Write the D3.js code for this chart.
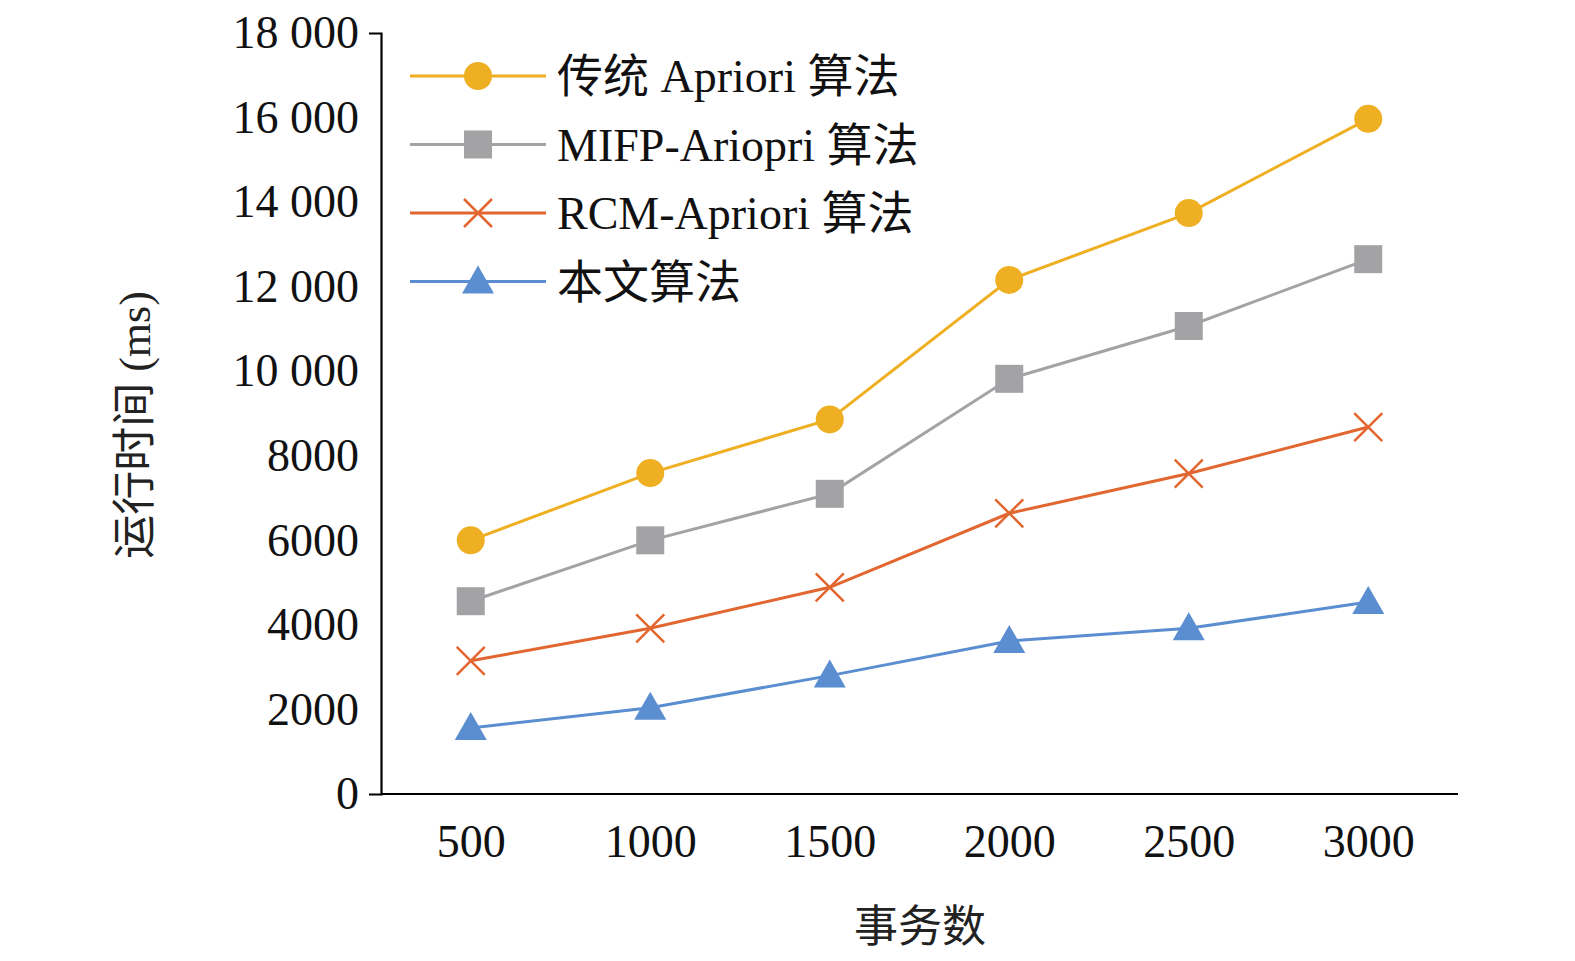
<!DOCTYPE html>
<html><head><meta charset="utf-8">
<script src="https://cdn.jsdelivr.net/npm/d3@7"></script>
<style>body{margin:0;background:#fff}</style>
</head><body>
<svg id="chart" width="1575" height="961"></svg>
<script>
// data
var categories = [500, 1000, 1500, 2000, 2500, 3000];
var traditional = [6000, 7590, 8860, 12160, 13740, 15970];
var mifp = [4560, 6000, 7100, 9820, 11070, 12650];
var rcm = [3150, 3920, 4890, 6640, 7580, 8680];
var ours = [1560, 2040, 2800, 3620, 3920, 4540];
var yTicks = [0, 2000, 4000, 6000, 8000, 10000, 12000, 14000, 16000, 18000];
var seriesNames = ["传统 Apriori 算法", "MIFP-Ariopri 算法", "RCM-Apriori 算法", "本文算法"];
var seriesColors = ["#EFAF22", "#A3A3A6", "#E2662F", "#5A8ED0"];
var seriesShapes = ["circle", "square", "cross", "triangle"];
var allSeries = [traditional, mifp, rcm, ours];

var svg = d3.select("#chart");
var font = "'Liberation Serif', 'Times New Roman', 'Noto Sans CJK SC', serif";

var x = d3.scalePoint().domain(categories).range([381, 1458]).padding(0.5);
var y = d3.scaleLinear().domain([0, 18000]).range([794, 33]);

function fmt(v) { return v >= 10000 ? d3.format(",")(v).replace(",", " ") : String(v); }

//Axes
var yAxis = svg.append("g").attr("transform", "translate(381,0)")
    .call(d3.axisLeft(y).tickValues(yTicks).tickFormat(fmt).tickSize(12).tickPadding(10));
var xAxis = svg.append("g").attr("transform", "translate(0,794)")
    .call(d3.axisBottom(x).tickSize(0).tickPadding(30));
xAxis.selectAll(".tick").append("line").attr("stroke", "#000").attr("stroke-width", 2)
    .attr("y2", 0);
[yAxis, xAxis].forEach(function (a) {
    a.select(".domain").attr("stroke", "#000").attr("stroke-width", 2.2);
    a.selectAll("line").attr("stroke", "#000").attr("stroke-width", 2);
    a.selectAll("text").attr("font-family", font).attr("font-size", 46).attr("fill", "#111");
});
yAxis.selectAll(".tick line").attr("x2", 0);
xAxis.select(".domain").attr("d", "M381,0H1458");

svg.append("text").attr("transform", "translate(150,425) rotate(-90)")
    .attr("text-anchor", "middle").attr("font-family", font).attr("font-size", 44)
    .attr("fill", "#222").text("运行时间 (ms)");
svg.append("text").attr("x", 920).attr("y", 942).attr("text-anchor", "middle")
    .attr("font-family", font).attr("font-size", 44).attr("fill", "#222").text("事务数");

function drawMarker(g, shape, color, cx, cy) {
    if (shape == "circle") g.append("circle").attr("cx", cx).attr("cy", cy).attr("r", 14).attr("fill", color);
    else if (shape == "square") g.append("rect").attr("x", cx - 14).attr("y", cy - 14).attr("width", 28).attr("height", 28).attr("fill", color);
    else if (shape == "cross") g.append("path").attr("d", `M${cx-14},${cy-14}L${cx+14},${cy+14}M${cx-14},${cy+14}L${cx+14},${cy-14}`).attr("stroke", color).attr("stroke-width", 2.5);
    else g.append("path").attr("d", `M${cx},${cy-16}L${cx+16},${cy+12}L${cx-16},${cy+12}Z`).attr("fill", color);
}

var line = d3.line().x((d, i) => x(categories[i])).y(d => y(d));
allSeries.forEach(function (vals, s) {
    var g = svg.append("g");
    g.append("path").datum(vals).attr("d", line).attr("fill", "none")
        .attr("stroke", seriesColors[s]).attr("stroke-width", 3);
    vals.forEach((v, i) => drawMarker(g, seriesShapes[s], seriesColors[s], x(categories[i]), y(v)));
});

//Legend
seriesNames.forEach(function (name, s) {
    var ly = 76 + s * 68.5;
    var g = svg.append("g");
    g.append("line").attr("x1", 410).attr("x2", 546).attr("y1", ly).attr("y2", ly)
        .attr("stroke", seriesColors[s]).attr("stroke-width", 3);
    drawMarker(g, seriesShapes[s], seriesColors[s], 478, ly);
    g.append("text").attr("x", 557).attr("y", ly + 16).attr("font-family", font)
        .attr("font-size", 46).attr("fill", "#111").text(name);
});
</script>
</body></html>
